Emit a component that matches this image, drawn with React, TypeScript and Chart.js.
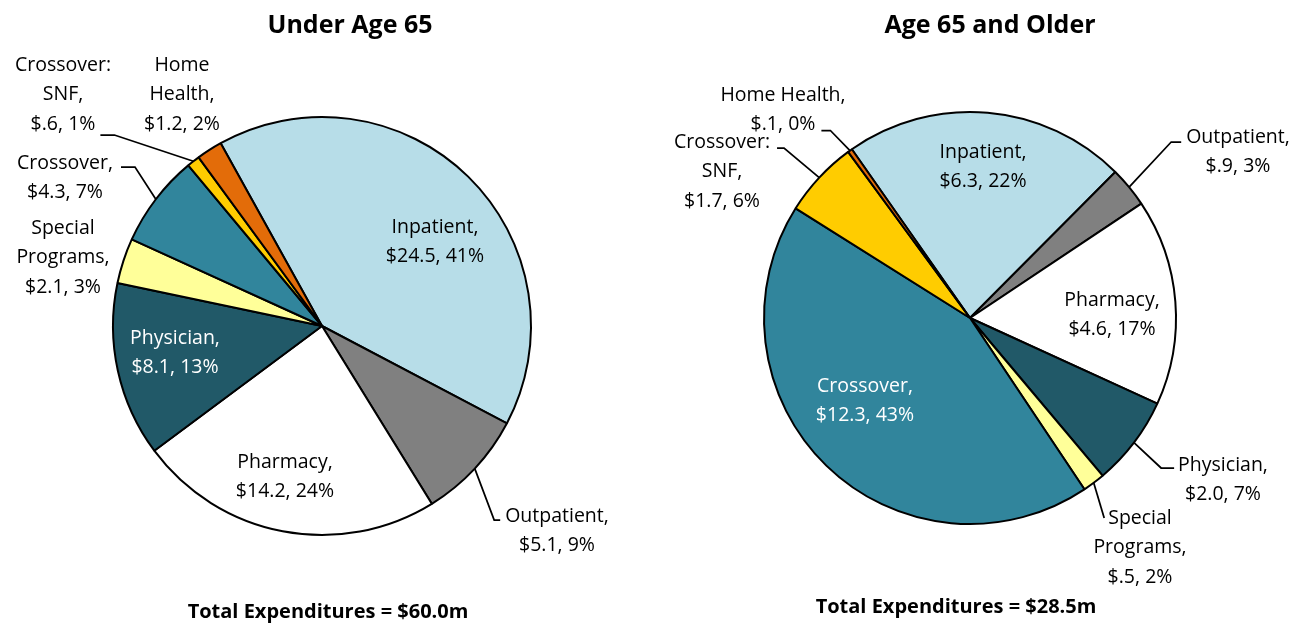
import React, { useEffect, useRef } from "react";
import { Chart, registerables } from "chart.js";

Chart.register(...registerables);

// ---------- data ----------
const categories = [
  "Inpatient",
  "Outpatient",
  "Pharmacy",
  "Physician",
  "Special Programs",
  "Crossover",
  "Crossover: SNF",
  "Home Health",
];
const under65Values = [24.5, 5.1, 14.2, 8.1, 2.1, 4.3, 0.6, 1.2];
const under65Percents = [41, 9, 24, 13, 3, 7, 1, 2];
const over65Values = [6.3, 0.9, 4.6, 2.0, 0.5, 12.3, 1.7, 0.1];
const over65Percents = [22, 3, 17, 7, 2, 43, 6, 0];
const chartTitles = ["Under Age 65", "Age 65 and Older"];
const totals = [60.0, 28.5];

// ---------- styles ----------
const sliceColors = [
  "#B7DDE8",
  "#808080",
  "#FFFFFF",
  "#215968",
  "#FFFF99",
  "#31859C",
  "#FFCC00",
  "#E36C09",
];
const FONT = "'Open Sans', sans-serif";
const LABEL_SIZE = 19.5;
const LINE_H = 29.5;

type Leader = { side: "left" | "right"; line: number; dy: number; gap: number; len: number };
type LabelLayout = { dx: number; dy: number; wrap: boolean; color?: string; leader?: Leader };

const leftLayout = {
  canvasLeft: 0,
  width: 648,
  padding: { left: 112, right: 116, top: 116, bottom: 87 },
  rotation: -29,
  title: { x: 350, y: 26 },
  footer: { x: 328, y: 612 },
  labels: [
    { dx: 113, dy: -99, wrap: false },
    { dx: 235, dy: 190, wrap: false, leader: { side: "left", line: 0, dy: 4, gap: 5, len: 6 } },
    { dx: -37, dy: 136, wrap: false },
    { dx: -147, dy: 12, wrap: false, color: "#FFFFFF" },
    { dx: -259, dy: -98, wrap: true },
    { dx: -257, dy: -163, wrap: false, leader: { side: "right", line: 0, dy: 4, gap: 8, len: 14 } },
    { dx: -259, dy: -261, wrap: true, leader: { side: "right", line: 2, dy: 11, gap: 5, len: 14 } },
    { dx: -140, dy: -261, wrap: true },
  ] as LabelLayout[],
};

const rightLayout = {
  canvasLeft: 648,
  width: 649,
  padding: { left: 115, right: 120, top: 111, bottom: 98 },
  rotation: -35,
  title: { x: 342, y: 26 },
  footer: { x: 308, y: 607 },
  labels: [
    { dx: 13, dy: -166, wrap: false },
    { dx: 268, dy: -181, wrap: false, leader: { side: "left", line: 0, dy: 5, gap: 5, len: 10 } },
    { dx: 142, dy: -18, wrap: false },
    { dx: 253, dy: 147, wrap: false, leader: { side: "left", line: 0, dy: 3, gap: 4, len: 13 } },
    { dx: 170, dy: 200, wrap: true, leader: { side: "left", line: 0, dy: 0, gap: 4, len: 0 } },
    { dx: -105, dy: 68, wrap: false, color: "#FFFFFF" },
    { dx: -248, dy: -176, wrap: true, leader: { side: "right", line: 0, dy: 6, gap: 7, len: 7 } },
    { dx: -187, dy: -223, wrap: false, leader: { side: "right", line: 1, dy: 6, gap: 6, len: 9 } },
  ] as LabelLayout[],
};

function money(v: number) {
  const s = v.toFixed(1);
  return "$" + (s.startsWith("0") ? s.slice(1) : s);
}

function labelLines(cat: string, value: number, pct: number, wrap: boolean) {
  const valueLine = `${money(value)}, ${pct}%`;
  if (!wrap) return [cat + ",", valueLine];
  const words = cat.split(" ");
  words[words.length - 1] += ",";
  return [...words, valueLine];
}

function makePlugin(
  layout: typeof leftLayout,
  values: number[],
  percents: number[],
  title: string,
  total: number
) {
  return {
    id: "pieLabels",
    afterDraw(chart: any) {
      const ctx: CanvasRenderingContext2D = chart.ctx;
      const meta = chart.getDatasetMeta(0);
      ctx.save();
      ctx.textAlign = "center";
      ctx.textBaseline = "middle";
      ctx.fillStyle = "#000";
      ctx.font = `bold 25px ${FONT}`;
      ctx.fillText(title, layout.title.x, layout.title.y);
      ctx.font = `bold 20px ${FONT}`;
      ctx.fillText(`Total Expenditures = $${total.toFixed(1)}m`, layout.footer.x, layout.footer.y);

      ctx.font = `${LABEL_SIZE}px ${FONT}`;
      meta.data.forEach((arc: any, i: number) => {
        const lb = layout.labels[i];
        if (!lb) return;
        const p = arc.getProps(["x", "y", "startAngle", "endAngle", "outerRadius"], true);
        const lines = labelLines(categories[i], values[i], percents[i], lb.wrap);
        const lx = p.x + lb.dx;
        const ly = p.y + lb.dy;
        ctx.fillStyle = lb.color || "#000";
        lines.forEach((t, k) => ctx.fillText(t, lx, ly + k * LINE_H));
        if (lb.leader) {
          const L = lb.leader;
          const mid = (p.startAngle + p.endAngle) / 2;
          const ax = p.x + Math.cos(mid) * p.outerRadius;
          const ay = p.y + Math.sin(mid) * p.outerRadius;
          const w = ctx.measureText(lines[L.line]).width;
          const y = ly + L.line * LINE_H + L.dy;
          const edge = L.side === "right" ? lx + w / 2 + L.gap : lx - w / 2 - L.gap;
          const elbow = L.side === "right" ? edge + L.len : edge - L.len;
          ctx.strokeStyle = "#000";
          ctx.lineWidth = 1.75;
          ctx.beginPath();
          ctx.moveTo(edge, y);
          ctx.lineTo(elbow, y);
          ctx.lineTo(ax, ay);
          ctx.stroke();
        }
      });
      ctx.restore();
    },
  };
}

function PieChart({
  layout,
  values,
  percents,
  title,
  total,
}: {
  layout: typeof leftLayout;
  values: number[];
  percents: number[];
  title: string;
  total: number;
}) {
  const ref = useRef<HTMLCanvasElement>(null);
  useEffect(() => {
    if (!ref.current) return;
    const chart = new Chart(ref.current, {
      type: "pie",
      data: {
        labels: categories,
        datasets: [
          {
            data: values,
            backgroundColor: sliceColors,
            borderColor: "#000000",
            borderWidth: 2,
          },
        ],
      },
      options: {
        responsive: false,
        animation: false,
        events: [],
        rotation: layout.rotation,
        layout: { padding: layout.padding },
        plugins: {
          legend: { display: false },
          tooltip: { enabled: false },
          title: { display: false },
        },
      } as any,
      plugins: [makePlugin(layout, values, percents, title, total)],
    });
    return () => chart.destroy();
  }, []);
  return (
    <canvas
      ref={ref}
      width={layout.width}
      height={623}
      style={{ position: "absolute", left: layout.canvasLeft, top: 0, width: layout.width, height: 623 }}
    />
  );
}

export default function App() {
  return (
    <div style={{ position: "absolute", left: 0, top: 0, width: 1297, height: 623, background: "#fff" }}>
      <PieChart layout={leftLayout} values={under65Values} percents={under65Percents} title={chartTitles[0]} total={totals[0]} />
      <PieChart layout={rightLayout} values={over65Values} percents={over65Percents} title={chartTitles[1]} total={totals[1]} />
    </div>
  );
}
